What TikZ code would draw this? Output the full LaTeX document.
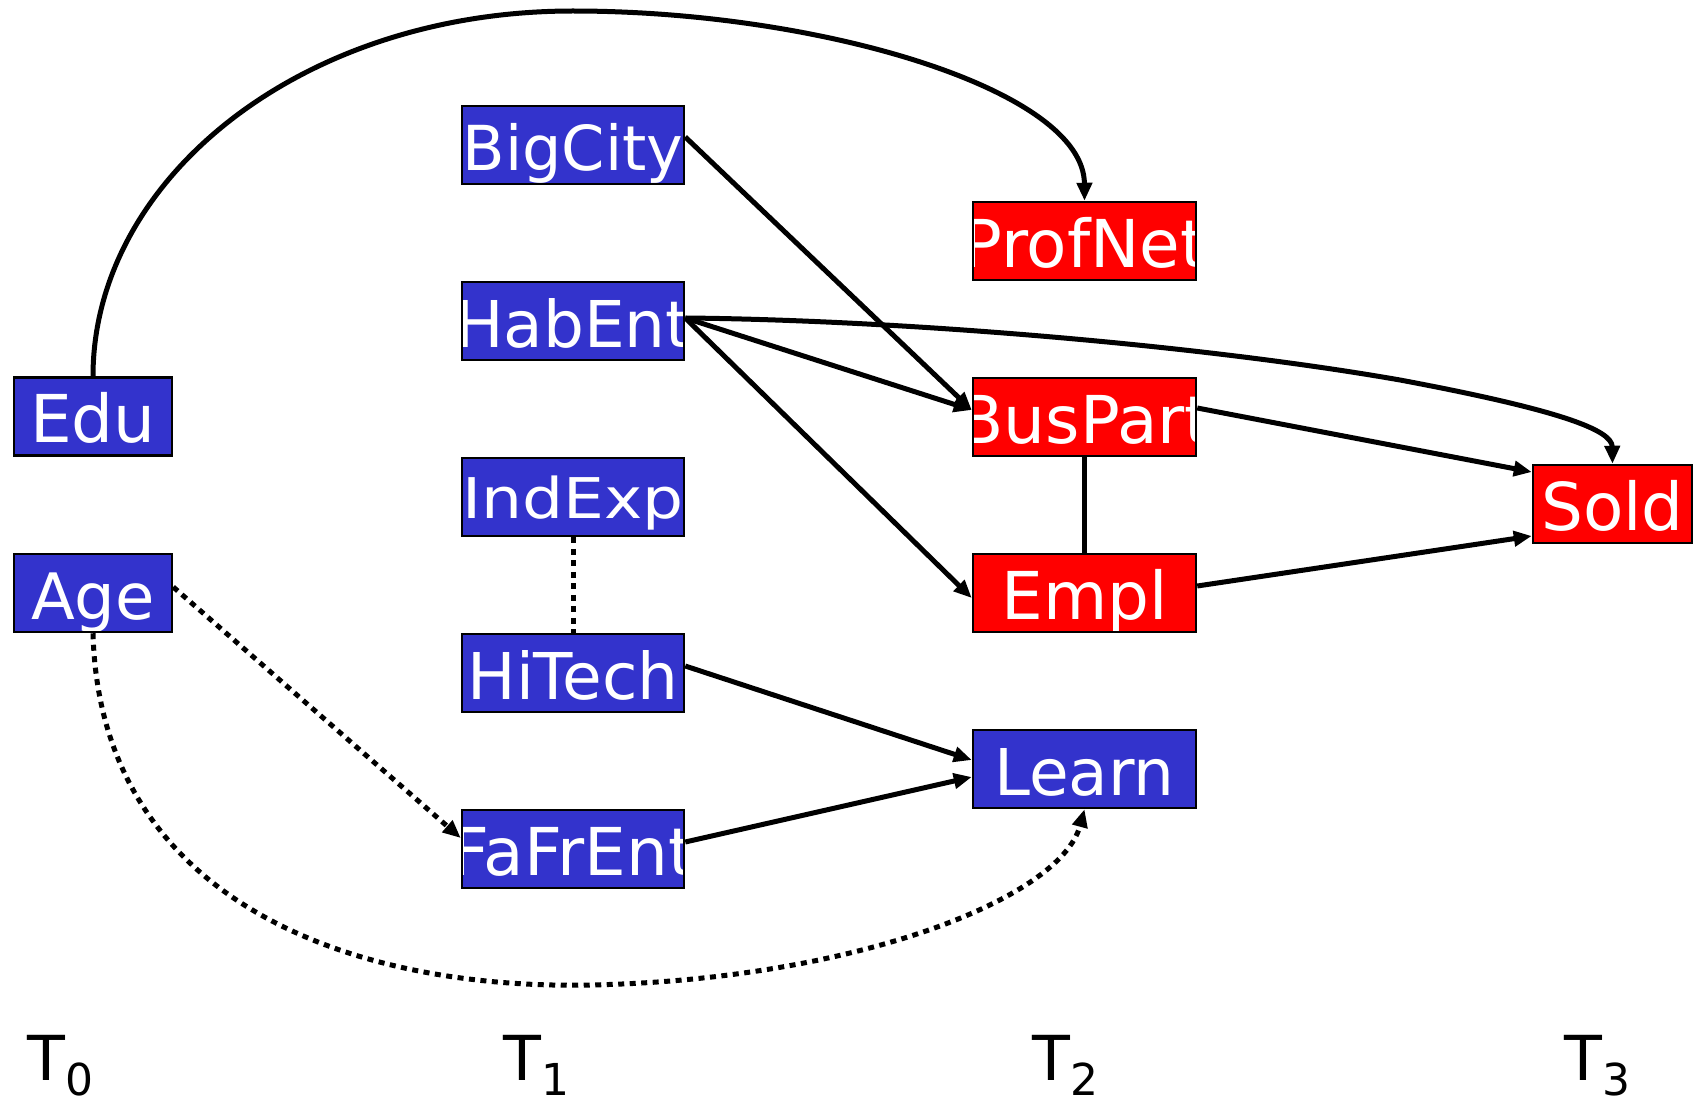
\documentclass[tikz,border=0pt]{standalone}
\usepackage{fontspec}
\usepackage{graphicx}
\setmainfont{DejaVu Sans}
\usetikzlibrary{arrows.meta,calc}
\definecolor{nodeblue}{RGB}{51,51,204}
\definecolor{nodered}{RGB}{255,0,0}
\tikzset{
  box/.style={draw=black, line width=2.5pt, inner sep=0pt, minimum height=78pt,
    path picture={\node[anchor=base, inner sep=0pt, text=white, font=\fontsize{66}{79}\selectfont]
      at ([yshift=-26pt]path picture bounding box.center) {#1};}},
  bluebox/.style={box={#1}, fill=nodeblue},
  redbox/.style={box={#1}, fill=nodered},
  wA/.style={minimum width=158pt},
  wB/.style={minimum width=222pt},
  wC/.style={minimum width=223pt},
  edge/.style={line width=5pt},
  arr/.style={edge, -{Triangle[length=18pt,width=15pt]}},
  dotline/.style={line width=5pt, dash pattern=on 6pt off 5.5pt},
  tlabel/.style={anchor=base west, inner sep=0pt, font=\fontsize{62}{74}\selectfont}
}
\newcommand{\tsub}[1]{{\fontsize{44}{50}\selectfont\raisebox{-15pt}{#1}}}
\newcommand{\fs}[1]{\fontsize{#1}{#1}\selectfont}
\begin{document}
\begin{tikzpicture}[x=1pt, y=-1pt]
\useasboundingbox (0,0) rectangle (1695,1102);
% nodes
\node[bluebox=Edu, wA] (Edu) at (93,416.5) {};
\node[bluebox={\fs{64}Age}, wA] (Age) at (93,593) {};
\node[bluebox={\fs{62}BigCity}, wB] (BigCity) at (573,145) {};
\node[bluebox={\fs{64.5}HabEnt}, wB] (HabEnt) at (573,321) {};
\node[bluebox={\raisebox{5pt}{\scalebox{0.98}[0.85]{IndExp}}}, wB] (IndExp) at (573,497) {};
\node[bluebox={\fs{64.5}HiTech}, wB] (HiTech) at (573,673) {};
\node[bluebox=FaFrEnt, wB] (FaFrEnt) at (573,849) {};
\node[redbox=ProfNet, wC] (ProfNet) at (1084.5,241) {};
\node[redbox=BusPart, wC] (BusPart) at (1084.5,417) {};
\node[redbox=Empl, wC] (Empl) at (1084.5,593) {};
\node[bluebox={\fs{64.5}Learn}, wC] (Learn) at (1084.5,769) {};
\node[redbox=Sold, minimum width=159pt] (Sold) at (1612.5,504) {};
% time labels
\node[tlabel] (T0) at (27,1080) {T\tsub{0}};
\node[tlabel] (T1) at (503,1080) {T\tsub{1}};
\node[tlabel] (T2) at (1032,1080) {T\tsub{2}};
\node[tlabel] (T3) at (1564,1080) {T\tsub{3}};
% connectors
\draw[arr] (Edu.north) .. controls (93,180) and (300,11) .. (573,11)
  .. controls (820,11) and (1084,90) .. (ProfNet.north);
\draw[arr] ($(BigCity.east)+(0,-8)$) -- ($(BusPart.west)+(0,-7)$);
\draw[arr] ($(HabEnt.east)+(0,-3)$) -- ($(BusPart.west)+(0,-7)$);
\draw[arr] ($(HabEnt.east)+(0,-3)$) -- ($(Empl.west)+(0,5)$);
\draw[arr] ($(HabEnt.east)+(0,-3)$) .. controls (900,320) and (1200,345) .. (1400,380)
  .. controls (1560,410) and (1612,430) .. (Sold.north);
\draw[arr] ($(BusPart.east)+(0,-9)$) -- ($(Sold.west)+(0,-32)$);
\draw[arr] ($(Empl.east)+(0,-7)$) -- ($(Sold.west)+(0,32)$);
\draw[edge] (BusPart.south) -- (Empl.north);
\draw[dotline] (IndExp.south) -- (HiTech.north);
\draw[arr] ($(HiTech.east)+(0,-7)$) -- ($(Learn.west)+(0,-9)$);
\draw[arr] ($(FaFrEnt.east)+(0,-7)$) -- ($(Learn.west)+(0,8)$);
\draw[dotline, -{Triangle[length=18pt,width=15pt]}] ($(Age.east)+(0,-6)$) -- ($(FaFrEnt.west)+(0,-11)$);
\draw[dotline, -{Triangle[length=18pt,width=15pt]}] (Age.south) .. controls (100,900) and (350,990) .. (590,985)
  .. controls (850,980) and (1060,900) .. (Learn.south);
\end{tikzpicture}
\end{document}
